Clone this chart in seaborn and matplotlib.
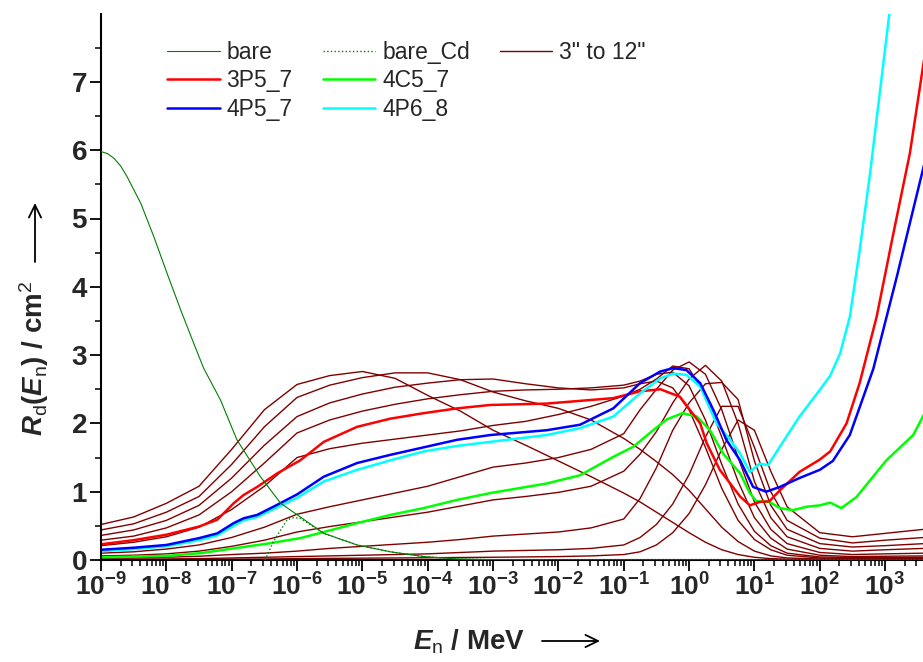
import numpy as np
import pandas as pd
import matplotlib
matplotlib.use('Agg')
import matplotlib.pyplot as plt
import matplotlib.ticker as mticker
from matplotlib.lines import Line2D
from matplotlib.patches import FancyArrowPatch
import seaborn as sns

# Energies are given as log10(E / MeV)

# 3" to 12" spheres, all on one energy grid
sphere_logE = [-9, -8.5, -8, -7.5, -7, -6.5, -6, -5.5, -5, -4.5, -4, -3.5, -3, -2.5, -2, -1.5,
               -1, -0.75, -0.5, -0.25, 0, 0.25, 0.5, 0.75, 1, 1.25, 1.5, 2, 2.5, 3, 3.6]
sphere_3in = [0.52, 0.63, 0.83, 1.08, 1.62, 2.20, 2.57, 2.70, 2.76, 2.66, 2.41, 2.18, 1.90, 1.68, 1.45, 1.22,
              0.98, 0.85, 0.70, 0.55, 0.40, 0.26, 0.15, 0.08, 0.04, 0.02, 0.012, 0.008, 0.006, 0.006, 0.007]
sphere_3p5in = [0.44, 0.53, 0.70, 0.93, 1.40, 1.95, 2.38, 2.56, 2.67, 2.74, 2.74, 2.64, 2.46, 2.33, 2.22, 2.05,
                1.78, 1.62, 1.44, 1.25, 1.02, 0.75, 0.48, 0.27, 0.13, 0.06, 0.03, 0.015, 0.012, 0.012, 0.014]
sphere_4in = [0.36, 0.44, 0.58, 0.80, 1.20, 1.68, 2.10, 2.30, 2.43, 2.53, 2.59, 2.64, 2.65, 2.58, 2.52, 2.49,
              2.52, 2.58, 2.62, 2.52, 2.20, 1.65, 1.05, 0.58, 0.30, 0.15, 0.07, 0.03, 0.022, 0.022, 0.025]
sphere_4p5in = [0.29, 0.35, 0.47, 0.66, 1.00, 1.42, 1.86, 2.05, 2.18, 2.28, 2.36, 2.42, 2.47, 2.49, 2.50, 2.52,
                2.56, 2.62, 2.72, 2.75, 2.55, 2.05, 1.40, 0.82, 0.42, 0.21, 0.10, 0.045, 0.035, 0.035, 0.04]
sphere_5in = [0.21, 0.26, 0.34, 0.48, 0.74, 1.08, 1.50, 1.63, 1.71, 1.77, 1.83, 1.89, 1.97, 2.03, 2.13, 2.25,
              2.40, 2.50, 2.65, 2.84, 2.80, 2.42, 1.80, 1.15, 0.62, 0.32, 0.16, 0.07, 0.05, 0.055, 0.06]
sphere_6in = [0.10, 0.12, 0.16, 0.22, 0.33, 0.48, 0.67, 0.78, 0.88, 0.98, 1.08, 1.22, 1.36, 1.42, 1.50, 1.62,
              1.85, 2.20, 2.50, 2.78, 2.90, 2.72, 2.20, 1.50, 0.85, 0.45, 0.24, 0.11, 0.08, 0.09, 0.10]
sphere_7in = [0.06, 0.07, 0.09, 0.13, 0.20, 0.29, 0.41, 0.49, 0.56, 0.63, 0.70, 0.79, 0.88, 0.93, 0.99, 1.08,
              1.30, 1.55, 1.88, 2.30, 2.65, 2.85, 2.62, 2.00, 1.15, 0.62, 0.34, 0.17, 0.13, 0.15, 0.17]
sphere_8in = [0.025, 0.03, 0.04, 0.055, 0.08, 0.10, 0.13, 0.17, 0.20, 0.23, 0.26, 0.30, 0.35, 0.38, 0.41, 0.47,
              0.60, 0.90, 1.35, 1.90, 2.30, 2.58, 2.60, 2.35, 1.45, 0.80, 0.45, 0.24, 0.19, 0.21, 0.24]
sphere_10in = [0.01, 0.012, 0.015, 0.02, 0.03, 0.04, 0.05, 0.06, 0.07, 0.08, 0.09, 0.11, 0.13, 0.14, 0.15, 0.17,
               0.22, 0.33, 0.52, 0.82, 1.25, 1.80, 2.25, 2.25, 1.65, 1.00, 0.58, 0.32, 0.25, 0.29, 0.33]
sphere_12in = [0.005, 0.006, 0.007, 0.009, 0.012, 0.015, 0.02, 0.024, 0.027, 0.03, 0.033, 0.037, 0.04, 0.045, 0.05, 0.06,
               0.08, 0.12, 0.22, 0.40, 0.68, 1.10, 1.62, 2.05, 1.90, 1.30, 0.78, 0.40, 0.34, 0.39, 0.45]
sphere_curves = [sphere_3in, sphere_3p5in, sphere_4in, sphere_4p5in, sphere_5in,
                 sphere_6in, sphere_7in, sphere_8in, sphere_10in, sphere_12in]

# bare detector and bare detector with Cd cover
bare_logE = [-9, -8.9, -8.8, -8.7, -8.6, -8.39, -8.19, -7.99, -7.78, -7.58, -7.43, -7.17, -6.92, -6.56, -6.25,
             -5.95, -5.59, -5.08, -4.57, -4.06, -3.55, -3.0, -2.0, 0, 2, 3.6]
bare_R = [5.98, 5.95, 5.88, 5.77, 5.61, 5.22, 4.73, 4.20, 3.66, 3.17, 2.81, 2.34, 1.76, 1.22, 0.83,
          0.63, 0.39, 0.22, 0.12, 0.05, 0.015, 0.005, 0.0, 0.0, 0.0, 0.0]
bare_cd_logE = [-6.49, -6.36, -6.25, -6.15, -6.05, -5.95, -5.8, -5.59, -5.08, -4.57, -4.06, -3.55, -3.0, -2.0, 0, 3.6]
bare_cd_R = [0.0, 0.27, 0.44, 0.59, 0.62, 0.61, 0.52, 0.39, 0.22, 0.12, 0.05, 0.015, 0.005, 0.0, 0.0, 0.0]

# extended-range spheres
p3p5_7_logE = [-9, -8.5, -8, -7.5, -7.22, -6.97, -6.82, -6.61, -6.3, -5.95, -5.59, -5.08, -4.57, -4.06,
               -3.55, -3.04, -2.18, -1.16, -0.75, -0.44, -0.14, 0.17, 0.27, 0.47, 0.63, 0.78, 0.93,
               1.08, 1.23, 1.39, 1.69, 2.0, 2.16, 2.41, 2.61, 2.87, 3.12, 3.38, 3.6]
p3p5_7_R = [0.23, 0.29, 0.37, 0.49, 0.59, 0.83, 0.95, 1.07, 1.27, 1.46, 1.73, 1.95, 2.07, 2.15,
            2.22, 2.27, 2.29, 2.37, 2.47, 2.50, 2.39, 2.00, 1.71, 1.32, 1.12, 0.93, 0.80,
            0.85, 0.86, 1.02, 1.29, 1.47, 1.59, 2.00, 2.59, 3.56, 4.75, 5.96, 7.35]

c4c5_7_logE = [-9, -8, -7.48, -6.97, -6.45, -5.95, -5.59, -5.08, -4.57, -4.06, -3.55, -3.04, -2.18,
               -1.67, -1.16, -0.85, -0.55, -0.34, -0.1, 0.12, 0.32, 0.52, 0.78, 0.93, 1.03, 1.23,
               1.39, 1.59, 1.8, 2.0, 2.16, 2.33, 2.56, 3.02, 3.43, 3.6]
c4c5_7_R = [0.04, 0.06, 0.10, 0.17, 0.24, 0.32, 0.41, 0.54, 0.66, 0.76, 0.88, 0.98, 1.12,
            1.24, 1.51, 1.66, 1.90, 2.06, 2.15, 2.10, 1.90, 1.56, 1.27, 0.98, 0.86, 0.85,
            0.76, 0.73, 0.78, 0.80, 0.84, 0.76, 0.92, 1.46, 1.83, 2.14]

p4p5_7_logE = [-9, -8.5, -8, -7.5, -7.22, -6.97, -6.82, -6.61, -6.3, -6.0, -5.59, -5.08, -4.57, -4.06,
               -3.55, -3.04, -2.18, -1.67, -1.16, -0.75, -0.44, -0.24, -0.04, 0.17, 0.37, 0.57, 0.78,
               0.98, 1.18, 1.39, 1.69, 2.0, 2.2, 2.46, 2.82, 3.18, 3.6]
p4p5_7_R = [0.15, 0.18, 0.22, 0.32, 0.39, 0.54, 0.61, 0.66, 0.81, 0.96, 1.22, 1.42, 1.54, 1.65,
            1.76, 1.83, 1.90, 1.98, 2.22, 2.59, 2.76, 2.81, 2.78, 2.59, 2.20, 1.76, 1.46,
            1.07, 1.00, 1.07, 1.20, 1.32, 1.45, 1.83, 2.80, 4.15, 5.80]

p4p6_8_logE = [-9, -8.5, -8, -7.5, -7.22, -6.97, -6.82, -6.61, -6.3, -6.0, -5.59, -5.08, -4.57, -4.06,
               -3.55, -3.04, -2.18, -1.67, -1.16, -0.75, -0.44, -0.24, -0.04, 0.17, 0.42, 0.63, 0.78,
               0.93, 1.08, 1.21, 1.39, 1.69, 2.0, 2.16, 2.31, 2.46, 2.61, 2.77, 2.92, 3.07, 3.15]
p4p6_8_R = [0.13, 0.16, 0.20, 0.29, 0.36, 0.50, 0.58, 0.63, 0.77, 0.91, 1.15, 1.32, 1.46, 1.59,
            1.67, 1.73, 1.83, 1.93, 2.10, 2.44, 2.66, 2.73, 2.71, 2.54, 2.00, 1.76, 1.56,
            1.29, 1.41, 1.39, 1.66, 2.10, 2.49, 2.70, 3.02, 3.56, 4.53, 5.66, 6.85, 8.04, 8.6]

BROWN = '#800000'
DKGREEN = '#008000'
W, H = 923, 662

sns.set_style('ticks')
plt.rcParams['font.family'] = ['Liberation Sans', 'DejaVu Sans']
plt.rcParams['mathtext.fontset'] = 'custom'
plt.rcParams['mathtext.rm'] = 'Liberation Sans'
plt.rcParams['mathtext.bf'] = 'Liberation Sans:bold'
plt.rcParams['mathtext.it'] = 'Liberation Sans:italic:bold'

fig = plt.figure(figsize=(W / 100, H / 100), dpi=100)
y_top = 7.99
ax = fig.add_axes([101 / W, 102 / H, 1 - 101 / W, y_top * 68.3 / H])


def draw(logE, values, **kw):
    sns.lineplot(x=np.power(10.0, logE), y=values, ax=ax, estimator=None, sort=False, **kw)


for i, curve in enumerate(sphere_curves):
    draw(sphere_logE, curve, color=BROWN, linewidth=1.0,
         label='3" to 12"' if i == 0 else None)

draw(bare_logE, bare_R, color=DKGREEN, linewidth=0.8, label='bare', zorder=3)
draw(bare_cd_logE, bare_cd_R, color=DKGREEN, linewidth=1.0, linestyle=':', label='bare_Cd', zorder=3)
draw(c4c5_7_logE, c4c5_7_R, color='#00ff00', linewidth=1.8, label='4C5_7')
draw(p3p5_7_logE, p3p5_7_R, color='#ff0000', linewidth=1.8, label='3P5_7')
draw(p4p6_8_logE, p4p6_8_R, color='#00ffff', linewidth=1.8, label='4P6_8')
draw(p4p5_7_logE, p4p5_7_R, color='#0000ff', linewidth=1.8, label='4P5_7')

ax.set_xscale('log')
ax.set_xlim(1e-9, 10 ** 3.58)
ax.set_ylim(0, y_top)
ax.set_xlabel('')
ax.set_ylabel('')

ax.xaxis.set_major_locator(mticker.LogLocator(base=10, numticks=20))
ax.xaxis.set_minor_locator(mticker.LogLocator(base=10, subs=np.arange(2, 10), numticks=20))
ax.xaxis.set_major_formatter(mticker.FuncFormatter(
    lambda v, p: r'$\mathbf{10^{%d}}$' % int(round(np.log10(v)))))
ax.xaxis.set_minor_formatter(mticker.NullFormatter())
ax.yaxis.set_major_locator(mticker.MultipleLocator(1))
ax.yaxis.set_minor_locator(mticker.MultipleLocator(0.5))

ax.tick_params(axis='both', which='major', direction='out', length=8, width=1.3,
               labelsize=19, pad=2, color='black')
ax.tick_params(axis='both', which='minor', direction='out', length=4.5, width=1.1, color='black')
for lab in ax.get_yticklabels():
    lab.set_fontweight('bold')
    lab.set_fontsize(20)

for side in ['top', 'right']:
    ax.spines[side].set_visible(False)
for side in ['left', 'bottom']:
    ax.spines[side].set_linewidth(1.5)
    ax.spines[side].set_color('black')

# axis titles, each followed by a long arrow
arrow_kw = dict(arrowstyle='->, head_length=0.45, head_width=0.22', lw=1.3,
                color='black', mutation_scale=20, shrinkA=0, shrinkB=0)
fig.text(34 / W, 1 - 436 / H, r'$R_{\rm d}$($E_{\rm n}$) / cm$^{\rm 2}$',
         rotation=90, ha='center', va='bottom', fontsize=20, fontweight='bold')
fig.add_artist(FancyArrowPatch((35 / W, 1 - 262 / H), (35 / W, 1 - 203 / H),
                               transform=fig.transFigure, **arrow_kw))
fig.text(413 / W, 1 - 650 / H, r'$E_{\rm n}$ / MeV',
         ha='left', va='baseline', fontsize=20, fontweight='bold')
fig.add_artist(FancyArrowPatch((542 / W, 1 - 641 / H), (600 / W, 1 - 641 / H),
                               transform=fig.transFigure, **arrow_kw))

# legend: three columns, the third holding only the sphere entry
handles, labels = ax.get_legend_handles_labels()
lookup = dict(zip(labels, handles))
blank = Line2D([], [], linestyle='none')
order = ['bare', '3P5_7', '4P5_7', 'bare_Cd', '4C5_7', '4P6_8', '3" to 12"']
leg_handles = [lookup[k] for k in order] + [blank, blank]
leg_labels = order + ['', '']
ax.legend(leg_handles, leg_labels, ncol=3, frameon=False,
          loc='upper left', bbox_to_anchor=(167 / W, 1 - 41 / H), bbox_transform=fig.transFigure,
          fontsize=16.5, handlelength=2.3, handletextpad=0.3, columnspacing=1.3,
          labelspacing=0.24, borderpad=0, borderaxespad=0)

fig.savefig('out.png', dpi=100)
plt.close(fig)
